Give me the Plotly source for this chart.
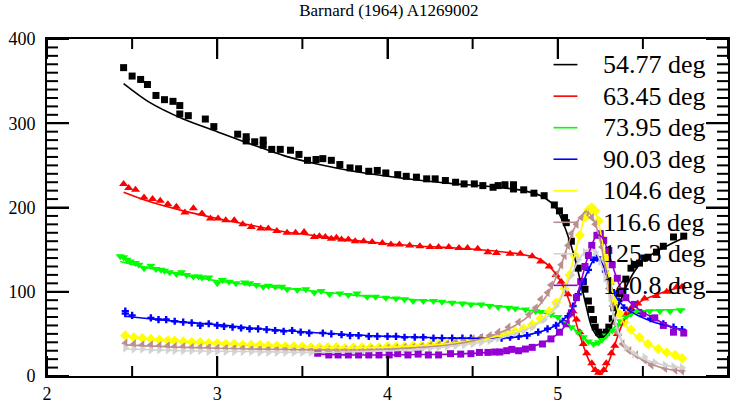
import plotly.graph_objects as go

# ---------------- data ----------------
angles = ["54.77 deg", "63.45 deg", "73.95 deg", "90.03 deg",
          "104.6 deg", "116.6 deg", "125.3 deg", "140.8 deg"]

# 54.77 deg  (black squares)
e_5477 = [2.45, 2.50, 2.55, 2.59, 2.64, 2.69, 2.74, 2.78, 2.78, 2.83, 2.93, 2.98, 3.12, 3.17, 3.17,
          3.22, 3.27, 3.27, 3.32, 3.37, 3.43, 3.48, 3.53, 3.58, 3.62, 3.67, 3.72, 3.78, 3.83, 3.89,
          3.94, 3.99, 4.06, 4.11, 4.17, 4.23, 4.28, 4.34, 4.40, 4.45, 4.51, 4.56, 4.62, 4.65, 4.69,
          4.74, 4.74, 4.80, 4.86, 4.92, 4.98, 5.01, 5.04, 5.05, 5.08, 5.12, 5.15, 5.16, 5.18, 5.195,
          5.21, 5.22, 5.24, 5.26, 5.285, 5.30, 5.32, 5.33, 5.36, 5.40, 5.43, 5.45, 5.48, 5.51, 5.53,
          5.58, 5.62, 5.68, 5.74]
d_5477 = [366, 356, 352, 346, 333, 328, 326, 321, 311, 309, 305, 296, 287, 284, 279,
          278, 280, 274, 269, 269, 268, 263, 256, 257, 258, 256, 251, 247, 246, 243,
          244, 241, 239, 237, 236, 234, 234, 232, 230, 228, 228, 226, 224, 226, 227,
          227, 222, 221, 217, 214, 203, 196, 188, 182, 160, 128, 112, 103, 89, 79,
          67, 58, 52, 49, 52, 58, 68, 81, 98, 115, 128, 132, 134, 140, 141,
          147, 154, 165, 166]
fe_5477 = [2.45, 2.6, 2.8, 3.0, 3.2, 3.4, 3.6, 3.8, 4.0, 4.2, 4.4, 4.6, 4.8, 4.9, 4.96, 5.0,
           5.05, 5.10, 5.16, 5.20, 5.24, 5.28, 5.31, 5.35, 5.40, 5.45, 5.50, 5.60, 5.75]
f_5477 = [347, 325, 305, 290, 275, 261, 251, 243, 237, 232, 228, 225, 220, 214, 206, 196,
          172, 140, 89, 58, 46, 48, 58, 80, 105, 124, 137, 150, 165]

# 63.45 deg  (red triangles up)
e_6345 = [2.45, 2.48, 2.52, 2.57, 2.62, 2.665, 2.71, 2.76, 2.81, 2.86, 2.91, 2.96, 3.005, 3.05, 3.10,
          3.15, 3.20, 3.255, 3.30, 3.35, 3.41, 3.46, 3.51, 3.57, 3.60, 3.635, 3.67, 3.70, 3.73, 3.77,
          3.81, 3.86, 3.91, 3.97, 4.02, 4.07, 4.13, 4.19, 4.25, 4.30, 4.36, 4.42, 4.47, 4.53, 4.59,
          4.64, 4.72, 4.78, 4.85, 4.90, 4.95, 4.99, 5.02, 5.06, 5.09, 5.11, 5.13, 5.15, 5.17, 5.20,
          5.22, 5.24, 5.27, 5.285, 5.315, 5.335, 5.35, 5.38, 5.40, 5.43, 5.47, 5.51, 5.58, 5.64, 5.70,
          5.73]
d_6345 = [228, 223, 221, 212, 210, 208, 204, 201, 194, 199, 193, 187, 187, 185, 185,
          180, 177, 175, 175, 172, 170, 170, 171, 165, 166, 165, 163, 164, 162, 162,
          160, 160, 159, 158, 156, 156, 155, 154, 153, 153, 153, 152, 152, 151, 147,
          146, 145, 145, 142, 136, 130, 120, 112, 97, 77, 67, 52, 38, 27, 15,
          7, 4, 7, 15, 27, 36, 50, 62, 73, 80, 86, 92, 95, 100, 106,
          106]
fe_6345 = [2.45, 2.6, 2.8, 3.0, 3.2, 3.4, 3.6, 3.8, 4.0, 4.2, 4.4, 4.6, 4.8, 4.9, 4.97, 5.03,
           5.08, 5.13, 5.18, 5.22, 5.25, 5.28, 5.32, 5.36, 5.40, 5.45, 5.50, 5.60, 5.75]
f_6345 = [218, 207, 196, 187, 179, 171, 166, 161, 157, 154, 152, 149, 144, 138, 126, 108,
          82, 48, 20, 6, 2, 8, 28, 52, 70, 82, 90, 98, 107]

# 73.95 deg  (green triangles down)
e_7395 = [2.43, 2.45, 2.47, 2.49, 2.52, 2.54, 2.57, 2.61, 2.64, 2.67, 2.69, 2.72, 2.76, 2.79, 2.82,
          2.86, 2.89, 2.91, 2.95, 3.00, 3.03, 3.07, 3.11, 3.16, 3.19, 3.23, 3.27, 3.30, 3.34, 3.38,
          3.41, 3.47, 3.52, 3.57, 3.61, 3.66, 3.72, 3.77, 3.82, 3.88, 3.93, 3.99, 4.05, 4.10, 4.15,
          4.21, 4.27, 4.32, 4.38, 4.44, 4.49, 4.55, 4.60, 4.65, 4.71, 4.75, 4.81, 4.87, 4.90, 4.96,
          5.00, 5.04, 5.08, 5.12, 5.15, 5.18, 5.21, 5.24, 5.26, 5.285, 5.32, 5.35, 5.37, 5.40, 5.43,
          5.47, 5.54, 5.60, 5.66, 5.72]
d_7395 = [142, 141, 138, 136, 134, 132, 128, 131, 127, 126, 125, 123, 121, 123, 120,
          118, 118, 117, 117, 110, 114, 112, 110, 111, 110, 108, 106, 107, 106, 106,
          103, 102, 103, 99, 101, 97, 98, 96, 98, 94, 94, 93, 92, 91, 89,
          89, 89, 88, 87, 86, 85, 85, 83, 82, 81, 80, 79, 77, 76, 73,
          70, 64, 58, 52, 46, 41, 38, 40, 43, 48, 54, 60, 65, 70, 74,
          77, 77, 77, 77, 78]
fe_7395 = [2.43, 2.6, 2.8, 3.0, 3.2, 3.4, 3.6, 3.8, 4.0, 4.2, 4.4, 4.6, 4.8, 4.95, 5.05, 5.12,
           5.18, 5.22, 5.26, 5.32, 5.38, 5.45, 5.55, 5.75]
f_7395 = [136, 128, 120, 113, 108, 104, 100, 96, 93, 90, 87, 84, 79, 73, 63, 52,
          41, 37, 42, 55, 67, 75, 78, 79]

# 90.03 deg  (blue crosses)
e_9003 = [2.46, 2.46, 2.50, 2.61, 2.655, 2.70, 2.75, 2.80, 2.85, 2.90, 2.95, 3.00, 3.04, 3.09, 3.14,
          3.19, 3.24, 3.29, 3.34, 3.39, 3.44, 3.49, 3.54, 3.62, 3.67, 3.73, 3.78, 3.83, 3.89, 3.94,
          4.00, 4.05, 4.10, 4.16, 4.21, 4.27, 4.32, 4.38, 4.44, 4.49, 4.55, 4.61, 4.67, 4.72, 4.77,
          4.82, 4.885, 4.94, 4.99, 5.03, 5.06, 5.09, 5.12, 5.15, 5.18, 5.21, 5.23, 5.25, 5.28, 5.31,
          5.33, 5.36, 5.39, 5.43, 5.49, 5.545, 5.62, 5.68, 5.73]
d_9003 = [77, 74, 72, 69, 67, 67, 65, 64, 63, 60, 62, 60, 59, 58, 57,
          56, 56, 55, 54, 53, 54, 52, 51, 51, 50, 49, 48, 48, 47, 47,
          47, 47, 46, 46, 46, 45, 45, 45, 45, 45, 45, 45, 45, 46, 47,
          48, 52, 56, 60, 65, 71, 83, 97, 112, 126, 138, 140, 138, 124, 110,
          99, 89, 81, 78, 75, 68, 62, 58, 55]
fe_9003 = [2.46, 2.6, 2.8, 3.0, 3.2, 3.4, 3.6, 3.8, 4.0, 4.2, 4.4, 4.6, 4.75, 4.85, 4.95, 5.03,
           5.08, 5.13, 5.18, 5.22, 5.25, 5.29, 5.33, 5.38, 5.45, 5.55, 5.65, 5.75]
f_9003 = [71, 68, 64, 61, 57, 54, 51, 49, 47, 46, 45, 45, 46, 50, 56, 66,
          78, 102, 126, 140, 137, 120, 98, 84, 74, 65, 59, 54]

# 104.6 deg  (yellow diamonds)
e_1046 = [2.46, 2.51, 2.56, 2.61, 2.66, 2.71, 2.75, 2.80, 2.85, 2.90, 2.95, 3.00, 3.05, 3.10, 3.15,
          3.20, 3.25, 3.30, 3.35, 3.40, 3.45, 3.50, 3.55, 3.60, 3.65, 3.70, 3.75, 3.80, 3.85, 3.90,
          3.95, 4.00, 4.05, 4.10, 4.15, 4.20, 4.25, 4.30, 4.35, 4.40, 4.45, 4.50, 4.55, 4.60, 4.65,
          4.70, 4.75, 4.80, 4.85, 4.90, 4.95, 4.99, 5.04, 5.07, 5.10, 5.13, 5.16, 5.18, 5.20, 5.22,
          5.24, 5.26, 5.28, 5.31, 5.33, 5.36, 5.39, 5.43, 5.48, 5.53, 5.59, 5.64, 5.69, 5.73]
d_1046 = [48, 46, 45, 44, 43, 42, 42, 41, 40, 40, 39, 39, 38, 38, 37,
          37, 37, 36, 36, 35, 35, 35, 34, 34, 34, 34, 33, 34, 34, 34,
          34, 35, 35, 35, 36, 36, 37, 38, 38, 39, 40, 41, 43, 45, 47,
          50, 53, 56, 61, 68, 77, 87, 104, 120, 143, 167, 188, 197, 200, 196,
          184, 163, 140, 112, 89, 74, 64, 55, 46, 38, 32, 28, 25, 21]
fe_1046 = [2.46, 2.7, 3.0, 3.3, 3.6, 3.9, 4.2, 4.4, 4.6, 4.8, 4.9, 5.0, 5.06, 5.12, 5.17, 5.20,
           5.23, 5.27, 5.31, 5.36, 5.42, 5.5, 5.6, 5.75]
f_1046 = [47, 42, 39, 36, 34, 34, 36, 39, 45, 56, 67, 88, 115, 160, 195, 200,
          190, 150, 110, 73, 55, 42, 31, 20]

# 116.6 deg  (rosy-brown triangles left)
e_1166 = [2.46, 2.51, 2.56, 2.61, 2.66, 2.71, 2.75, 2.80, 2.85, 2.90, 2.95, 3.00, 3.05, 3.10, 3.15,
          3.20, 3.25, 3.30, 3.35, 3.40, 3.45, 3.50, 3.55, 3.60, 3.65, 3.70, 3.75, 3.80, 3.85, 3.90,
          3.95, 4.00, 4.05, 4.10, 4.15, 4.20, 4.25, 4.30, 4.35, 4.40, 4.45, 4.50, 4.55, 4.60, 4.65,
          4.71, 4.77, 4.83, 4.87, 4.90, 4.94, 4.96, 4.99, 5.02, 5.04, 5.06, 5.08, 5.11, 5.14, 5.17,
          5.20, 5.22, 5.24, 5.26, 5.28, 5.30, 5.32, 5.33, 5.35, 5.38, 5.42, 5.46, 5.51, 5.55, 5.63,
          5.69, 5.73]
d_1166 = [39, 38, 37, 37, 36, 36, 35, 35, 34, 34, 34, 33, 33, 33, 33,
          32, 32, 32, 32, 32, 31, 31, 31, 31, 31, 31, 31, 31, 31, 32,
          32, 33, 33, 34, 34, 35, 36, 37, 38, 40, 42, 44, 46, 48, 52,
          58, 64, 73, 81, 91, 99, 108, 120, 132, 143, 155, 169, 180, 188, 194,
          188, 180, 169, 153, 130, 104, 83, 64, 52, 38, 30, 25, 19, 13, 9,
          7, 6]
fe_1166 = [2.46, 2.8, 3.2, 3.6, 3.9, 4.2, 4.4, 4.6, 4.75, 4.85, 4.95, 5.02, 5.08, 5.13, 5.17,
           5.21, 5.25, 5.29, 5.33, 5.38, 5.45, 5.55, 5.65, 5.75]
f_1166 = [37, 34, 32, 31, 31, 34, 38, 47, 60, 75, 100, 132, 167, 188, 195,
          186, 160, 115, 70, 40, 25, 14, 8, 6]

# 125.3 deg  (light-grey triangles right)
e_1253 = [2.46, 2.51, 2.56, 2.61, 2.66, 2.71, 2.75, 2.80, 2.85, 2.90, 2.95, 3.00, 3.05, 3.10, 3.15,
          3.20, 3.25, 3.30, 3.35, 3.40, 3.45, 3.50, 3.55, 3.60, 3.65, 3.70, 3.75, 3.80, 3.85, 3.90,
          3.95, 4.00, 4.05, 4.10, 4.15, 4.20, 4.25, 4.30, 4.35, 4.40, 4.45, 4.50, 4.55, 4.60, 4.65,
          4.70, 4.75, 4.80, 4.85, 4.92, 4.99, 5.04, 5.08, 5.12, 5.16, 5.19, 5.22, 5.25, 5.28, 5.31,
          5.33, 5.36, 5.40, 5.45, 5.51, 5.57, 5.63, 5.68, 5.73]
d_1253 = [33, 32, 32, 31, 31, 31, 30, 30, 30, 30, 29, 29, 29, 29, 29,
          29, 28, 28, 28, 28, 28, 28, 28, 28, 28, 28, 28, 29, 29, 29,
          30, 30, 31, 31, 32, 32, 33, 34, 35, 36, 37, 38, 40, 42, 45,
          48, 50, 54, 58, 67, 83, 101, 120, 138, 147, 150, 147, 136, 116, 93,
          69, 50, 34, 26, 22, 16, 13, 11, 10]
fe_1253 = [2.46, 2.8, 3.2, 3.6, 3.9, 4.2, 4.4, 4.6, 4.8, 4.92, 5.0, 5.08, 5.14, 5.19, 5.23,
           5.28, 5.33, 5.38, 5.45, 5.55, 5.65, 5.75]
f_1253 = [32, 30, 29, 28, 29, 32, 36, 42, 54, 67, 85, 120, 143, 151, 145,
          116, 70, 40, 26, 17, 12, 9]

# 140.8 deg  (dark-violet squares)
e_1408 = [3.59, 3.655, 3.71, 3.77, 3.83, 3.89, 3.95, 4.01, 4.06, 4.12, 4.18, 4.24, 4.30, 4.37, 4.43,
          4.49, 4.54, 4.59, 4.63, 4.66, 4.70, 4.73, 4.77, 4.81, 4.85, 4.91, 4.96, 5.01, 5.05, 5.08,
          5.11, 5.135, 5.16, 5.18, 5.20, 5.23, 5.25, 5.27, 5.30, 5.32, 5.35, 5.38, 5.40, 5.45, 5.50,
          5.57, 5.62, 5.68, 5.74]
d_1408 = [27, 25, 25, 25, 25, 25, 25, 25, 26.5, 25, 26, 25, 25, 26.5, 26,
          26.5, 28, 28, 28.5, 28.5, 30, 31.6, 30, 32, 34, 38, 44, 52, 62, 75,
          93, 112, 130, 143, 155, 167, 169, 161, 149, 132, 116, 101, 93, 85, 74,
          69, 60, 52, 51]
fe_1408 = [3.59, 3.8, 4.0, 4.2, 4.4, 4.6, 4.75, 4.85, 4.95, 5.03, 5.09, 5.14, 5.19, 5.23, 5.26,
           5.30, 5.35, 5.40, 5.47, 5.55, 5.65, 5.75]
f_1408 = [26, 25, 25, 25.5, 26, 28, 31, 35, 43, 56, 80, 115, 150, 167, 165,
          145, 114, 93, 80, 70, 60, 53]

x_range = [2, 6]
y_range = [0, 400]
x_major = [2, 3, 4, 5, 6]
x_minor = [2.5, 3.5, 4.5, 5.5]
y_major = [0, 100, 200, 300, 400]
y_minor = [v for v in range(0, 401, 10) if v % 100 != 0]
title_text = "Barnard (1964) A1269002"

# ---------------- styling ----------------
colors = ["#000000", "#ff0000", "#00ff00", "#0000ff", "#ffff00", "#bc8f8f", "#d3d3d3", "#9400d3"]
symbols = ["square", "triangle-up", "triangle-down", "cross", "diamond",
           "triangle-left", "triangle-right", "square"]
msizes = [7, 8, 8, 6, 8, 8, 8, 7]

data_e = [e_5477, e_6345, e_7395, e_9003, e_1046, e_1166, e_1253, e_1408]
data_v = [d_5477, d_6345, d_7395, d_9003, d_1046, d_1166, d_1253, d_1408]
fit_e = [fe_5477, fe_6345, fe_7395, fe_9003, fe_1046, fe_1166, fe_1253, fe_1408]
fit_v = [f_5477, f_6345, f_7395, f_9003, f_1046, f_1166, f_1253, f_1408]

SERIF = "Liberation Serif"
W, H = 731, 405
ML, MR, MT, MB = 47, 1, 39, 24

fig = go.Figure()
for i in range(len(angles)):
    fig.add_trace(go.Scatter(
        x=data_e[i], y=data_v[i], mode="markers", showlegend=False,
        marker=dict(symbol=symbols[i], size=msizes[i], color=colors[i],
                    line=dict(width=0))))
for i in range(len(angles)):
    fig.add_trace(go.Scatter(
        x=fit_e[i], y=fit_v[i], mode="lines", name=angles[i], showlegend=False,
        line=dict(color=colors[i], width=1.6, shape="spline", smoothing=0.8)))

tickfont = dict(family=SERIF, size=18, color="black")
fig.update_layout(
    xaxis=dict(range=x_range, tickvals=x_major, ticks="inside", ticklen=20, tickwidth=2,
               tickcolor="black", showline=True, linecolor="black", linewidth=2,
               mirror="ticks", showgrid=False, zeroline=False, tickfont=tickfont),
    yaxis=dict(range=y_range, tickvals=y_major, ticks="inside", ticklen=22, tickwidth=2,
               tickcolor="black", showline=True, linecolor="black", linewidth=2,
               mirror="ticks", showgrid=False, zeroline=False, tickfont=tickfont,
               ticklabelstandoff=6),
)

shapes = []
tick_line = dict(color="black", width=2)
# x ticks on bottom (anchor 0) and top (anchor 1) edges, length in pixels
for vals, length in ((x_major, 20), (x_minor, 10)):
    for v in vals:
        for anchor, sign in ((0, 1), (1, -1)):
            shapes.append(dict(type="line", xref="x", yref="paper", ysizemode="pixel",
                               yanchor=anchor, x0=v, x1=v, y0=0, y1=sign * length,
                               line=tick_line, layer="above"))
# y ticks on left (anchor 0) and right (anchor 1) edges
for vals, length in ((y_major, 22), (y_minor, 11)):
    for v in vals:
        for anchor, sign in ((0, 1), (1, -1)):
            shapes.append(dict(type="line", xref="paper", yref="y", xsizemode="pixel",
                               xanchor=anchor, y0=v, y1=v, x0=0, x1=sign * length,
                               line=tick_line, layer="above"))

# legend: line samples + labels, placed in paper coordinates
plot_w = W - ML - MR
plot_h = H - MT - MB
annotations = []
for i, name in enumerate(angles):
    yc = 65 + 32 * i                      # row centre in pixels from top
    yp = (H - MB - yc) / plot_h
    annotations.append(dict(text=name, xref="paper", yref="paper",
                            x=(603 - ML) / plot_w, y=yp, xanchor="left", yanchor="middle",
                            showarrow=False,
                            font=dict(family=SERIF, size=26, color="black")))
    shapes.append(dict(type="line", xref="paper", yref="paper",
                       x0=(555 - ML) / plot_w, x1=(579 - ML) / plot_w, y0=yp, y1=yp,
                       line=dict(color=colors[i], width=1.6)))

fig.update_layout(
    width=W, height=H,
    margin=dict(l=ML, r=MR, t=MT, b=MB),
    plot_bgcolor="white",
    title=dict(text=title_text, x=0.532, xanchor="center", y=0.99, yanchor="top",
               font=dict(family=SERIF, size=17, color="black")),
    annotations=annotations, shapes=shapes,
    showlegend=False,
)

fig.write_html("out.html")
